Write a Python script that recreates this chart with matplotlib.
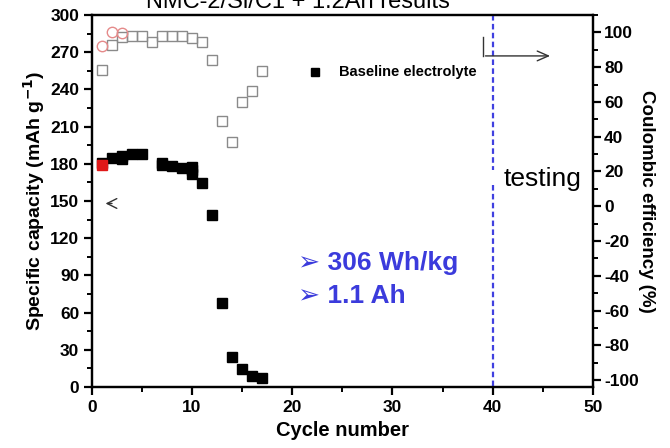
import matplotlib
matplotlib.use("Agg")
import matplotlib.pyplot as plt
from matplotlib.ticker import MultipleLocator

plt.rcParams['font.family'] = ['Liberation Sans', 'DejaVu Sans']
plt.rcParams['font.weight'] = 'bold'
plt.rcParams['axes.unicode_minus'] = False

# specific capacity, baseline electrolyte (left axis)
cap_cycles = [1, 2, 3, 3, 4, 5, 7, 7, 8, 9, 10, 10, 10, 11, 12, 13, 14, 15, 16, 17]
cap_values = [181, 185, 186, 183.5, 188, 187.5, 180.5, 179, 178, 177, 177.5, 175, 172,
              164.5, 139, 67.5, 24.5, 14.5, 9, 7]
first_cycle = [1]
first_cap = [179]

# coulombic efficiency (right axis)
ce_cycles = [1, 2, 3, 4, 5, 6, 7, 8, 9, 10, 11, 12, 13, 14, 15, 16, 17]
ce_values = [78.5, 93, 97.5, 98, 98, 94.5, 98, 98, 98, 97, 94.5, 84, 49, 37, 60, 66, 78]
ce_red_cycles = [1, 2, 3]
ce_red_values = [92, 100.5, 99.5]

fig = plt.figure(figsize=(6.7, 4.48), dpi=100)
ax = fig.add_axes([0.1369, 0.1362, 0.7481, 0.8303])
ax2 = ax.twinx()

ax2.plot(ce_cycles, ce_values, ls='none', marker='s', ms=7, mfc='none',
         mec='#8a8a8a', mew=1.0)
ax2.plot(ce_red_cycles, ce_red_values, ls='none', marker='o', ms=7.5, mfc='none',
         mec='#e58a8a', mew=1.0)

ax.plot(cap_cycles, cap_values, ls='none', marker='s', ms=7, color='black')
ax.plot(first_cycle, first_cap, ls='none', marker='s', ms=7, color='#e01818')
ax.set_zorder(ax2.get_zorder() + 1)
ax.patch.set_visible(False)

ax.set_xlim(0, 50)
ax.set_ylim(0, 300)
ax2.set_ylim(-104, 110)

ax.xaxis.set_major_locator(MultipleLocator(10))
ax.xaxis.set_minor_locator(MultipleLocator(5))
ax.yaxis.set_major_locator(MultipleLocator(30))
ax.yaxis.set_minor_locator(MultipleLocator(15))
ax2.yaxis.set_major_locator(MultipleLocator(20))
ax2.yaxis.set_minor_locator(MultipleLocator(10))

for a in (ax, ax2):
    for s in a.spines.values():
        s.set_linewidth(1.6)
    a.tick_params(which='major', direction='out', length=6, width=1.6, labelsize=12.5)
    a.tick_params(which='minor', direction='out', length=3.5, width=1.4)
ax.tick_params(axis='y', pad=3)
ax2.tick_params(axis='y', pad=2)

ax.set_xlabel('Cycle number', fontsize=14.5, fontweight='bold', labelpad=4)
ax.set_ylabel('Specific capacity (mAh g$^{-1}$)', fontsize=14, fontweight='bold', labelpad=2)
ax2.set_ylabel('Coulombic efficiency (%)', fontsize=13.5, fontweight='bold',
               rotation=270, labelpad=12)

# legend-like entry
ax.plot([22.3], [254], ls='none', marker='s', ms=5.5, color='black')
ax.text(24.7, 254, 'Baseline electrolyte', fontsize=10.5, fontweight='bold', va='center')

# testing marker
ax.plot([40, 40], [300, 175], ls=(0, (2.5, 1.5)), lw=1.6, color='#4040e0')
ax.plot([40, 40], [163, 0], ls=(0, (2.5, 1.5)), lw=1.6, color='#4040e0')
ax.text(41.1, 168, 'testing', fontsize=19, fontweight='normal', va='center')

# axis pointers
ax.plot([39, 39], [282, 267], color='#333333', lw=1)
ax.annotate('', xy=(46, 267), xytext=(39, 267),
            arrowprops=dict(arrowstyle='->,head_length=0.8,head_width=0.35',
                            color='#333333', lw=1))
ax.annotate('', xy=(1.1, 148), xytext=(2.3, 148),
            arrowprops=dict(arrowstyle='->,head_length=0.7,head_width=0.35',
                            color='#333333', lw=1))

# highlights
ax.text(20.6, 100, '\u27a2 306 Wh/kg', fontsize=19, fontweight='bold', color='#3b3bdc',
        va='center', family=['Liberation Sans', 'DejaVu Sans'])
ax.text(20.6, 73, '\u27a2 1.1 Ah', fontsize=19, fontweight='bold', color='#3b3bdc',
        va='center', family=['Liberation Sans', 'DejaVu Sans'])

fig.text(0.445, 0.982, 'NMC-2/Si/C1 + 1.2Ah results', fontsize=17, fontweight='normal',
         ha='center', va='baseline')

fig.savefig('out.png', dpi=100)
